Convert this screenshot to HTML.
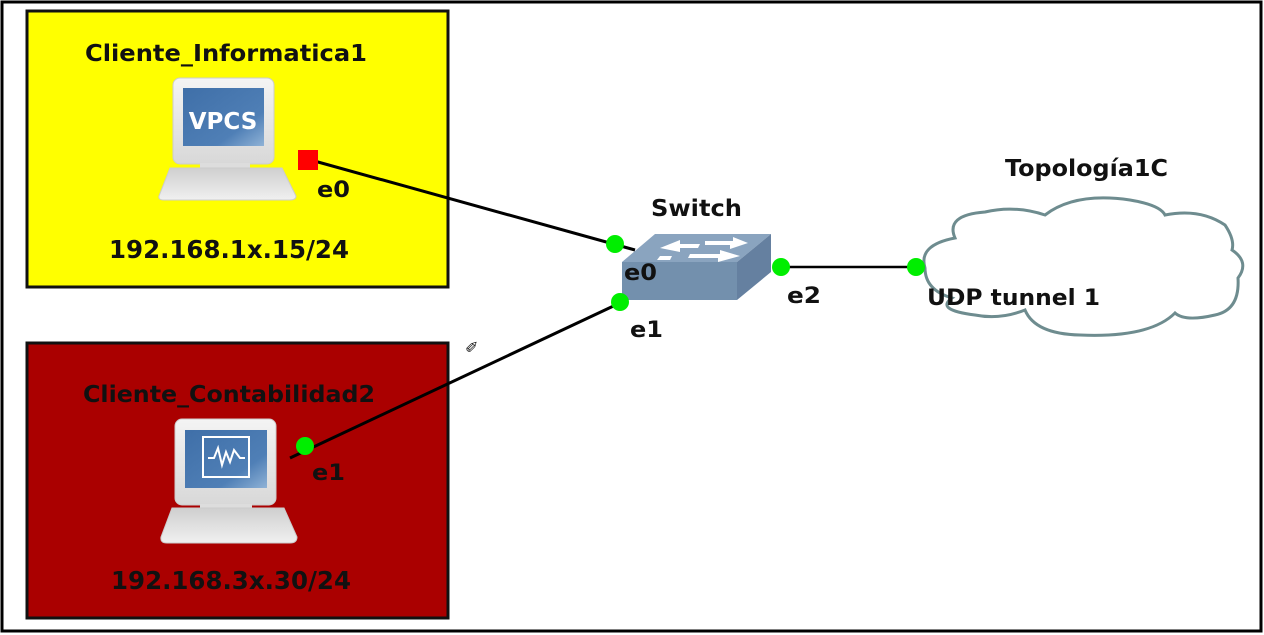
<!DOCTYPE html>
<html><head><meta charset="utf-8"><style>
html,body{margin:0;padding:0;background:#fff;width:1264px;height:635px;overflow:hidden}
text{font-family:"DejaVu Sans","Liberation Sans",sans-serif;font-weight:bold;fill:#111}
</style></head><body>
<svg width="1264" height="635" viewBox="0 0 1264 635" xmlns="http://www.w3.org/2000/svg">
<defs>
<linearGradient id="mon" x1="0" y1="0" x2="0" y2="1"><stop offset="0" stop-color="#f4f4f4"/><stop offset="1" stop-color="#d8d8d8"/></linearGradient>
<linearGradient id="scr" x1="0" y1="0" x2="1" y2="1"><stop offset="0" stop-color="#3f6fa8"/><stop offset="0.7" stop-color="#4f7fb6"/><stop offset="1" stop-color="#8fb2d6"/></linearGradient>
<linearGradient id="base" x1="0" y1="0" x2="0" y2="1"><stop offset="0" stop-color="#cfcfcf"/><stop offset="1" stop-color="#f0f0f0"/></linearGradient>
</defs>
<rect x="2" y="2" width="1259" height="629" fill="#fff" stroke="#000" stroke-width="3"/>
<rect x="27" y="11" width="421" height="276" fill="#ffff00" stroke="#111" stroke-width="3"/>
<rect x="27" y="343" width="421" height="275" fill="#aa0000" stroke="#111" stroke-width="3"/>

<line x1="300" y1="157" x2="635" y2="250" stroke="#000" stroke-width="3"/>
<line x1="290" y1="458" x2="622" y2="302" stroke="#000" stroke-width="3"/>
<line x1="781" y1="267" x2="916" y2="267" stroke="#000" stroke-width="2.5"/>

<!-- computer 1 -->
<rect x="173" y="78" width="101" height="86" rx="7" fill="url(#mon)" stroke="#ccc"/>
<rect x="183" y="88" width="81" height="58" fill="url(#scr)"/>
<text x="223" y="129" text-anchor="middle" style="font-size:23px;fill:#fff" font-family="Liberation Sans">VPCS</text>
<rect x="200" y="163" width="50" height="6" fill="#ddd"/>
<path d="M170 168 H282 L296 196 Q296 200 290 200 H164 Q158 200 159 196 Z" fill="url(#base)" stroke="#ccc"/>
<rect x="298" y="150" width="20" height="20" fill="#ff0000"/>
<text x="317" y="197" style="font-size:22px" textLength="33" lengthAdjust="spacingAndGlyphs">e0</text>

<!-- computer 2 -->
<rect x="175" y="419" width="101" height="86" rx="7" fill="url(#mon)" stroke="#ccc"/>
<rect x="185" y="430" width="82" height="58" fill="url(#scr)"/>
<rect x="203" y="437" width="46" height="40" fill="none" stroke="#fff" stroke-width="2"/>
<polyline points="208,458 214,458 218,448 222,465 226,452 230,462 234,450 240,458 245,458" fill="none" stroke="#fff" stroke-width="2"/>
<rect x="200" y="504" width="52" height="6" fill="#ddd"/>
<path d="M172 508 H284 L297 537 Q297 543 290 543 H167 Q160 543 161 537 Z" fill="url(#base)" stroke="#ccc"/>
<circle cx="305" cy="446" r="9" fill="#00ee00"/>
<text x="312" y="480" style="font-size:22px" textLength="33" lengthAdjust="spacingAndGlyphs">e1</text>

<!-- switch -->
<polygon points="655,234 771,234 737,262 622,262" fill="#8aa4bf"/>
<polygon points="622,262 737,262 737,300 622,300" fill="#7390ad"/>
<polygon points="737,262 771,234 771,272 737,300" fill="#6580a0"/>
<g fill="#fff">
<polygon points="660,248 680,240 680,244 700,244 698,248 680,248 680,252"/>
<polygon points="705,241 733,241 733,237 748,243 730,249 730,245 705,245"/>
<polygon points="660,256 672,256 670,260 657,260"/>
<polygon points="690,254 720,254 720,250 740,256 718,262 718,258 688,258"/>
</g>
<circle cx="615" cy="244" r="9" fill="#00ee00"/>
<circle cx="620" cy="302" r="9" fill="#00ee00"/>
<circle cx="781" cy="267" r="9" fill="#00ee00"/>
<text x="624" y="280" style="font-size:22px" textLength="33" lengthAdjust="spacingAndGlyphs">e0</text>
<text x="630" y="337" style="font-size:22px" textLength="33" lengthAdjust="spacingAndGlyphs">e1</text>
<text x="787" y="303" style="font-size:22px" textLength="34" lengthAdjust="spacingAndGlyphs">e2</text>
<text x="651" y="216" style="font-size:23px" textLength="91" lengthAdjust="spacingAndGlyphs">Switch</text>

<!-- cloud -->
<path d="M925 268 Q918 245 955 238 Q945 215 985 212 Q1015 205 1045 215 Q1075 192 1130 200 Q1160 205 1165 215 Q1200 208 1225 225 Q1235 240 1232 250 Q1250 262 1238 278 Q1240 310 1215 315 Q1185 322 1175 313 Q1150 338 1080 335 Q1035 334 1025 310 Q1000 320 975 315 Q935 310 952 298 Q925 290 925 268 Z" fill="#fff" stroke="#6e8c8f" stroke-width="3"/>
<circle cx="916" cy="267" r="9" fill="#00ee00"/>
<text x="927" y="305" style="font-size:22px" textLength="173" lengthAdjust="spacingAndGlyphs">UDP tunnel 1</text>
<text x="1005" y="176" style="font-size:23px" textLength="163" lengthAdjust="spacingAndGlyphs">Topología1C</text>

<text x="226" y="61" text-anchor="middle" style="font-size:23px" textLength="282" lengthAdjust="spacingAndGlyphs">Cliente_Informatica1</text>
<text x="229" y="258" text-anchor="middle" style="font-size:25px" textLength="240" lengthAdjust="spacingAndGlyphs">192.168.1x.15/24</text>
<text x="229" y="402" text-anchor="middle" style="font-size:23px" textLength="292" lengthAdjust="spacingAndGlyphs">Cliente_Contabilidad2</text>
<text x="231" y="589" text-anchor="middle" style="font-size:25px" textLength="240" lengthAdjust="spacingAndGlyphs">192.168.3x.30/24</text>
<text x="465" y="353" style="font-size:16px;font-weight:normal">✐</text>
</svg>
</body></html>
